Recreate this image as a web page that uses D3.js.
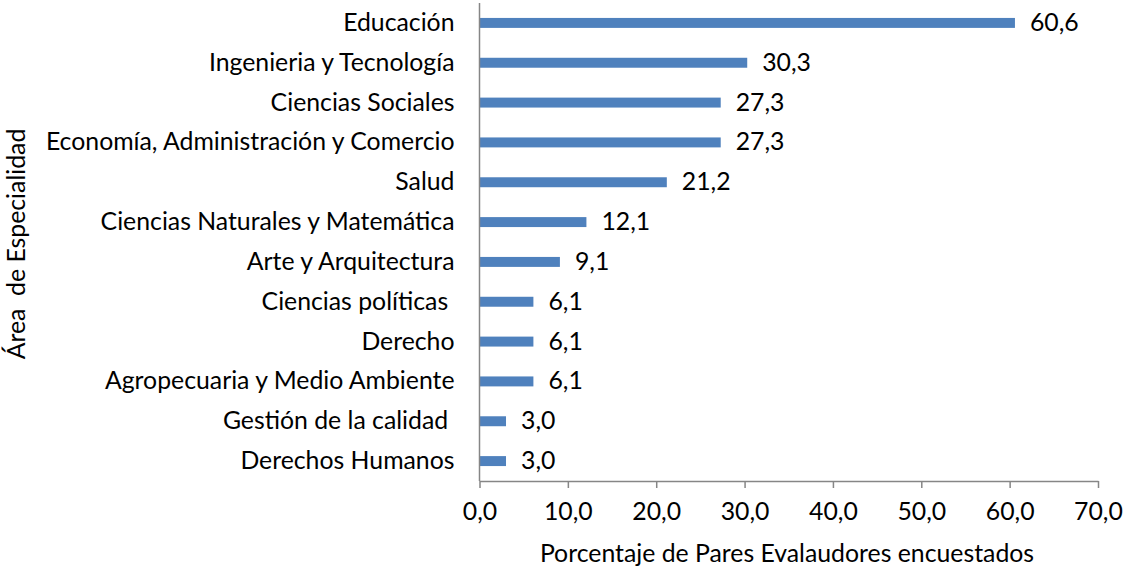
<!DOCTYPE html>
<html><head><meta charset="utf-8">
<script src="https://cdn.jsdelivr.net/npm/d3@7"></script>
<style>
body{margin:0;background:#fff;}
text{font-family:Lato,"Open Sans",sans-serif;fill:#000;white-space:pre;}
</style></head>
<body>
<svg id="chart" width="1123" height="568"></svg>
<script>
const categories = ["Educación","Ingenieria y Tecnología","Ciencias Sociales","Economía, Administración y Comercio","Salud","Ciencias Naturales y Matemática","Arte y Arquitectura","Ciencias políticas ","Derecho","Agropecuaria y Medio Ambiente","Gestión de la calidad ","Derechos Humanos"];
const values = [60.6,30.3,27.3,27.3,21.2,12.1,9.1,6.1,6.1,6.1,3.0,3.0];
const xTicks = [0,10,20,30,40,50,60,70];
const xTitle = "Porcentaje de Pares Evalaudores encuestados";
const yTitle = "Área  de Especialidad";

(function(){
const svg = d3.select("#chart");
const mL = 479.5, mR = 1098, mT = 3, mB = 481;
const FS = "24.8px";
const fmt = v => v.toFixed(1).replace(".", ",");

const x = d3.scaleLinear().domain([0,70]).range([mL,mR]);
const y = d3.scaleBand().domain(categories).range([mT,mB]).paddingInner(0.75).paddingOuter(0.375);

svg.selectAll("rect.bar").data(values).enter().append("rect")
  .attr("class","bar")
  .attr("x", x(0))
  .attr("y", (d,i)=>y(categories[i]))
  .attr("width", d=>x(d)-x(0))
  .attr("height", y.bandwidth())
  .attr("fill","#4F81BD");

svg.selectAll("text.val").data(values).enter().append("text")
  .attr("class","val")
  .attr("x", d=>x(d)+15)
  .attr("y", (d,i)=>y(categories[i])+y.bandwidth()/2)
  .attr("dy","0.32em")
  .attr("font-size",FS)
  .text(d=>fmt(d));

const yAxis = svg.append("g").attr("transform",`translate(${mL},0)`)
  .call(d3.axisLeft(y).tickSize(0).tickPadding(25));
yAxis.select(".domain").attr("stroke","#868686").attr("stroke-width",1.5).attr("d",`M0,${mT}V${mB}`);
yAxis.selectAll("text").attr("font-size",FS).attr("font-family","Lato").attr("fill","#000").attr("dy","0.32em");

const xAxis = svg.append("g").attr("transform",`translate(0,${mB})`)
  .call(d3.axisBottom(x).tickValues(xTicks).tickSize(7).tickPadding(14).tickFormat(fmt).tickSizeOuter(0));
xAxis.select(".domain").attr("stroke","#868686").attr("stroke-width",1.5);
xAxis.selectAll(".tick line").attr("stroke","#868686").attr("stroke-width",1.5);
xAxis.selectAll("text").attr("font-size",FS).attr("font-family","Lato").attr("fill","#000");

svg.append("text").attr("x",787).attr("y",562)
  .attr("text-anchor","middle").attr("font-size",FS).text(xTitle);

svg.append("text").attr("transform","translate(25,244) rotate(-90)")
  .attr("text-anchor","middle").attr("font-size",FS).text(yTitle);
})();
</script>
</body></html>
